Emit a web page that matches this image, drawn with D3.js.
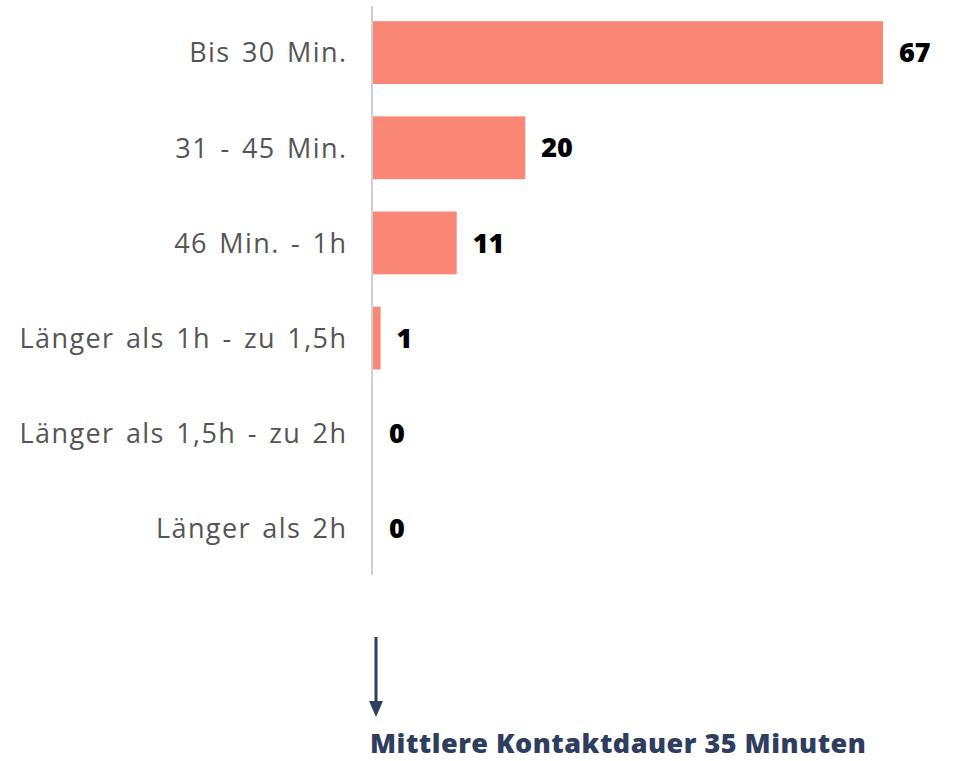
<!DOCTYPE html>
<html>
<head>
<meta charset="utf-8">
<script src="https://cdn.jsdelivr.net/npm/d3@7"></script>
<style>
  html, body { margin: 0; padding: 0; background: #fff; }
  #chart { width: 956px; height: 761px; }
</style>
</head>
<body>
<div id="chart"></div>
<script>
const categories = [
  "Bis 30 Min.",
  "31 - 45 Min.",
  "46 Min. - 1h",
  "Länger als 1h - zu 1,5h",
  "Länger als 1,5h - zu 2h",
  "Länger als 2h",
];
const values = [67, 20, 11, 1, 0, 0];
const note = "Mittlere Kontaktdauer 35 Minuten";

const width = 956;
const height = 761;
const axisX = 373;

const svg = d3
  .select("#chart")
  .append("svg")
  .attr("width", width)
  .attr("height", height)
  .attr("viewBox", `0 0 ${width} ${height}`);

const y = d3
  .scaleBand()
  .domain(categories)
  .range([6, 575])
  .paddingInner(0.34)
  .paddingOuter(0.16);

const x = d3
  .scaleLinear()
  .domain([0, 67])
  .range([axisX, 883]);

const data = categories.map((c, i) => ({ label: c, value: values[i] }));

svg
  .append("g")
  .selectAll("rect")
  .data(data)
  .join("rect")
  .attr("x", x(0))
  .attr("y", (d) => y(d.label))
  .attr("width", (d) => x(d.value) - x(0))
  .attr("height", y.bandwidth())
  .attr("fill", "#fa8775");

// axis with category labels
svg
  .append("g")
  .attr("transform", `translate(${axisX - 1}, 0)`)
  .call(d3.axisLeft(y).tickSize(0).tickPadding(26))
  .call((g) => g.select(".domain").attr("stroke", "#d0d0d0").attr("stroke-width", 2)
    .attr("d", `M0,6V575`))
  .call((g) => g.selectAll(".tick text")
    .attr("fill", "#555")
    .attr("font-family", "'Open Sans', sans-serif")
    .attr("font-size", 27)
    .attr("letter-spacing", 1.4)
    .attr("word-spacing", 3)
    .attr("dx", 1.4)
    .attr("dy", "0.36em"));

// value labels
svg
  .append("g")
  .selectAll("text")
  .data(data)
  .join("text")
  .attr("x", (d) => x(d.value) + 16)
  .attr("y", (d) => y(d.label) + y.bandwidth() / 2)
  .attr("dy", "0.36em")
  .attr("fill", "#000")
  .attr("font-family", "'Open Sans', sans-serif")
  .attr("font-weight", 800)
  .attr("font-size", 27)
  .text((d) => d.value);

// arrow + note
const navy = "#2f3d5e";
svg.append("line")
  .attr("x1", 376).attr("x2", 376)
  .attr("y1", 637).attr("y2", 704)
  .attr("stroke", navy)
  .attr("stroke-width", 3);

svg.append("path")
  .attr("d", "M369,701 L383,701 L376,717 Z")
  .attr("fill", navy);

svg.append("text")
  .attr("x", 370)
  .attr("y", 753)
  .attr("fill", navy)
  .attr("font-family", "'Open Sans', sans-serif")
  .attr("font-weight", 800)
  .attr("font-size", 27)
  .attr("letter-spacing", 0.5)
  .text(note);
</script>
</body>
</html>
